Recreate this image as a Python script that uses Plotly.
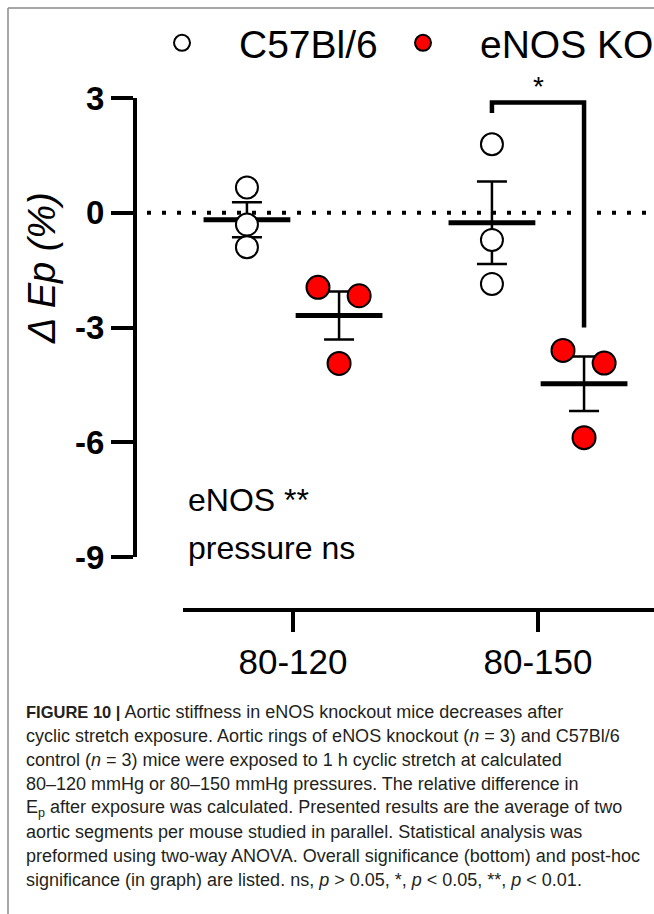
import numpy as np
import plotly.graph_objects as go

# ---------------- data ----------------
categories = ["80-120", "80-150"]
c57_80_120 = [0.66, -0.31, -0.90]
c57_80_150 = [1.79, -0.71, -1.86]
ko_80_120 = [-1.95, -2.17, -3.94]
ko_80_150 = [-3.60, -3.93, -5.88]
y_tick_vals = [-9, -6, -3, 0, 3]
y_tick_text = ["-9", "-6", "-3", "0", "3"]
series_names = ["C57Bl/6", "eNOS KO"]
overall_stats = ["eNOS **", "pressure ns"]
posthoc_label = "*"

caption_lines = [
    "<span style='font-size:16.5px'><b>FIGURE 10 |</b></span> Aortic stiffness in eNOS knockout mice decreases after",
    "cyclic stretch exposure. Aortic rings of eNOS knockout (<i>n</i> = 3) and C57Bl/6",
    "control (<i>n</i> = 3) mice were exposed to 1 h cyclic stretch at calculated",
    "80–120 mmHg or 80–150 mmHg pressures. The relative difference in",
    "E<sub>p</sub> after exposure was calculated. Presented results are the average of two",
    "aortic segments per mouse studied in parallel. Statistical analysis was",
    "preformed using two-way ANOVA. Overall significance (bottom) and post-hoc",
    "significance (in graph) are listed. ns, <i>p</i> &gt; 0.05, *, <i>p</i> &lt; 0.05, **, <i>p</i> &lt; 0.01.",
]

# ---------------- layout constants ----------------
W, H = 654, 914
L, T = 135, 98
X_AXIS_Y = 610          # pixel row of the separate x-axis line
Y_BOTTOM = 557          # pixel row of the -9 tick
PW = W - L
PH = X_AXIS_Y - T
GROUP_OFF = 0.188
KO_JITTER = [-0.086, 0.082, 0.0]
FONT = "Liberation Sans"


def px_x(p):
    return (p - L) / PW


def px_y(p):
    return (X_AXIS_Y - p) / PH


cat_pos = np.arange(len(categories), dtype=float)
c57_groups = [c57_80_120, c57_80_150]
ko_groups = [ko_80_120, ko_80_150]


def mean_sem(vals):
    a = np.asarray(vals, dtype=float)
    return a.mean(), a.std(ddof=1) / np.sqrt(len(a))


fig = go.Figure()

# mean +/- SEM (drawn first so the circles sit on top)
for groups, off in [(c57_groups, -GROUP_OFF), (ko_groups, GROUP_OFF)]:
    ms = [mean_sem(g) for g in groups]
    fig.add_trace(go.Scatter(
        x=cat_pos + off, y=[m for m, s in ms], mode="markers", showlegend=False,
        marker=dict(symbol="line-ew", size=62, color="black",
                    line=dict(color="black", width=5)),
        error_y=dict(type="data", array=[s for m, s in ms], color="black",
                     thickness=2.5, width=15),
        hoverinfo="skip", cliponaxis=False,
    ))

# individual points
cx, cy = [], []
for i, g in enumerate(c57_groups):
    cx += [cat_pos[i] - GROUP_OFF] * len(g)
    cy += g
kx, ky = [], []
for i, g in enumerate(ko_groups):
    kx += [cat_pos[i] + GROUP_OFF + j for j in KO_JITTER[:len(g)]]
    ky += g

fig.add_trace(go.Scatter(
    x=cx, y=cy, mode="markers", name=series_names[0], legend="legend",
    marker=dict(size=22, color="white", line=dict(color="black", width=2)),
    cliponaxis=False,
))
fig.add_trace(go.Scatter(
    x=kx, y=ky, mode="markers", name=series_names[1], legend="legend2",
    marker=dict(size=23, color="#ff0000", line=dict(color="black", width=2)),
    cliponaxis=False,
))

# significance bracket (80-150: C57 vs KO)
br_top, br_left_end, br_right_end = 2.88, 2.61, -3.0
bx0 = cat_pos[1] - GROUP_OFF
bx1 = cat_pos[1] + GROUP_OFF
fig.add_trace(go.Scatter(
    x=[bx0, bx0, bx1, bx1], y=[br_left_end, br_top, br_top, br_right_end],
    mode="lines", line=dict(color="black", width=4.5), showlegend=False,
    hoverinfo="skip", cliponaxis=False,
))

annotations = []
annotations.append(dict(
    x=cat_pos[1], xref="x", y=px_y(86), yref="paper", text=posthoc_label,
    showarrow=False, font=dict(family=FONT, size=28, color="black"),
    xanchor="center", yanchor="middle",
))
for txt, py in zip(overall_stats, [500, 548]):
    annotations.append(dict(
        x=px_x(186), xref="paper", y=px_y(py), yref="paper", text=txt,
        showarrow=False, font=dict(family=FONT, size=32, color="black"),
        xanchor="left", yanchor="middle",
    ))
# y-axis title
annotations.append(dict(
    x=px_x(42), xref="paper", y=px_y(268), yref="paper",
    text="<i>Δ Ep (%)</i>", textangle=-90, showarrow=False,
    font=dict(family=FONT, size=38, color="black"),
    xanchor="center", yanchor="middle",
))
# caption
for i, line in enumerate(caption_lines):
    annotations.append(dict(
        x=px_x(24), xref="paper", y=px_y(712 + 24 * i), yref="paper",
        text=line, showarrow=False,
        font=dict(family=FONT, size=18.0, color="#231f20"),
        xanchor="left", yanchor="middle", align="left",
    ))

shapes = [
    # zero reference line
    dict(type="line", xref="paper", x0=px_x(147), x1=1, yref="y", y0=0, y1=0,
         line=dict(color="black", width=4, dash="4px,11px"), layer="below"),
    # frame lines of the figure panel
    dict(type="line", xref="paper", x0=px_x(8), x1=px_x(W), yref="paper",
         y0=px_y(8), y1=px_y(8), line=dict(color="#8a8a8a", width=1.5)),
    dict(type="line", xref="paper", x0=px_x(8), x1=px_x(8), yref="paper",
         y0=px_y(8), y1=px_y(H), line=dict(color="#8a8a8a", width=1.5)),
]

legend_common = dict(
    orientation="h", yanchor="middle", y=px_y(43), xanchor="left",
    font=dict(family=FONT, size=39, color="black"),
    itemwidth=104, bgcolor="rgba(0,0,0,0)", itemclick=False,
    itemdoubleclick=False,
)

fig.update_layout(
    width=W, height=H,
    margin=dict(l=L, r=0, t=T, b=H - X_AXIS_Y, pad=0, autoexpand=False),
    paper_bgcolor="white", plot_bgcolor="white",
    font=dict(family=FONT, color="black"),
    showlegend=True,
    legend=dict(x=px_x(125), **legend_common),
    legend2=dict(x=px_x(366), **legend_common),
    xaxis=dict(
        domain=[px_x(183), 1], range=[-0.449, 1.4735],
        anchor="free", position=0,
        tickvals=list(cat_pos), ticktext=categories,
        ticks="outside", ticklen=20, tickwidth=4, tickcolor="black",
        showline=True, linewidth=4, linecolor="black",
        showgrid=False, zeroline=False,
        tickfont=dict(family=FONT, size=35, color="black"),
    ),
    yaxis=dict(
        domain=[px_y(Y_BOTTOM), 1], range=[-9, 3],
        anchor="free", position=0,
        tickvals=y_tick_vals, ticktext=y_tick_text,
        ticks="outside", ticklen=22, tickwidth=4,
        tickcolor="black", showline=True, linewidth=4, linecolor="black",
        showgrid=False, zeroline=False,
        tickfont=dict(family=FONT, size=33, color="black", weight="bold"),
    ),
    annotations=annotations,
    shapes=shapes,
)

fig.write_html("out.html")
